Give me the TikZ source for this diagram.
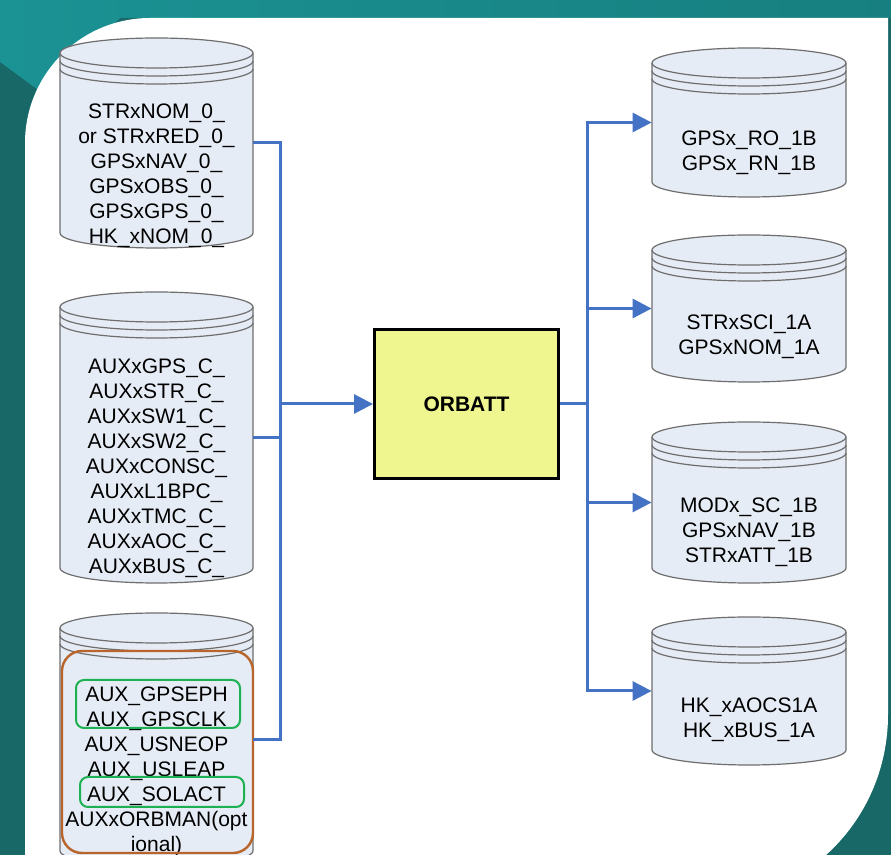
\documentclass[tikz,border=0pt]{standalone}
\usepackage{fontspec}
\setmainfont{Liberation Sans}
\usepackage{xcolor}
\usetikzlibrary{arrows.meta, positioning}
\definecolor{PanelTeal}{HTML}{176866}
\definecolor{TopTealA}{HTML}{1B9294}
\definecolor{TopTealB}{HTML}{177F7F}
\definecolor{DrumFill}{HTML}{E6ECF5}
\definecolor{DrumLine}{HTML}{6E6E6E}
\definecolor{FlowBlue}{HTML}{4472C4}
\definecolor{BoxYellow}{HTML}{F0F68F}
\definecolor{MarkBrown}{HTML}{B8642A}
\definecolor{MarkGreen}{HTML}{1DB152}

% drum: name, left, right, top, bottom, text centre, text
\newcommand{\drum}[7]{%
  \pgfmathsetmacro{\drumrx}{(#3-#2)/2}%
  \pgfmathsetmacro{\drumw}{(#3-#2)*0.5}%
  \pgfmathsetmacro{\drumh}{(#5-#4)*0.5}%
  \filldraw[drumline] (#2,#4+15) -- (#2,#5-15) arc[start angle=180, end angle=0, x radius=\drumrx, y radius=15]
    -- (#3,#4+15) arc[start angle=0, end angle=-180, x radius=\drumrx, y radius=15] -- cycle;
  \foreach \ring in {0,8,16}
    \draw[drumline, fill=none] (#2,#4+15+\ring) arc[start angle=180, end angle=0, x radius=\drumrx, y radius=15];
  \node[drumbox, minimum width=\drumw pt, minimum height=\drumh pt] (#1) at ({(#2+#3)/2},{(#4+#5)/2}) {};
  \node[drumtext] (#1txt) at ({(#2+#3)/2},#6) {#7};
}

\begin{document}
\begin{tikzpicture}[x=0.5pt, y=-0.5pt,
    drumline/.style={draw=DrumLine, fill=DrumFill, line width=0.6pt},
    drumbox/.style={draw=none, inner sep=0pt},
    drumtext/.style={font=\fontsize{10.5pt}{12.5pt}\selectfont, align=center, inner sep=0pt},
    procbox/.style={draw=black, line width=1.5pt, fill=BoxYellow, minimum width=92pt, minimum height=74.5pt, font=\fontsize{10.5pt}{12.5pt}\selectfont\bfseries},
    flow/.style={draw=FlowBlue, line width=1.5pt},
    flowarrow/.style={flow, -{Triangle[length=9.5pt, width=9.5pt]}},
    hlframe/.style={line width=1pt, rounded corners=4pt}]
  \clip (0,0) rectangle (891,855);

  % frame
  \fill[PanelTeal] (0,0) rectangle (891,855);
  \shade[left color=TopTealA, right color=TopTealB] (0,0) -- (891,0) -- (891,18) -- (120,18) -- (45,95) -- (0,62) -- cycle;
  \fill[white] (25,860) -- (25,143) .. controls (25,74) and (81,18) .. (150,18) -- (888,18) -- (888,715)
    .. controls (888,768) and (866,819) .. (826,855) -- (826,860) -- cycle;

  % inputs
  \drum{nom0}{60}{253}{38}{248}{176}{STRxNOM\_0\_\\or STRxRED\_0\_\\GPSxNAV\_0\_\\GPSxOBS\_0\_\\GPSxGPS\_0\_\\HK\_xNOM\_0\_}
  \drum{auxc}{60}{253}{292}{583}{468}{AUXxGPS\_C\_\\AUXxSTR\_C\_\\AUXxSW1\_C\_\\AUXxSW2\_C\_\\AUXxCONSC\_\\AUXxL1BPC\_\\AUXxTMC\_C\_\\AUXxAOC\_C\_\\AUXxBUS\_C\_}
  \drum{auxgps}{60}{253}{613}{866}{771}{AUX\_GPSEPH\\AUX\_GPSCLK\\AUX\_USNEOP\\AUX\_USLEAP\\AUX\_SOLACT\\AUXxORBMAN(opt\\ional)}
  \draw[hlframe, draw=MarkBrown, line width=1.2pt, rounded corners=10pt] (62,651) rectangle (253,853);
  \draw[hlframe, draw=MarkGreen] (76,680) rectangle (240,728);
  \draw[hlframe, draw=MarkGreen] (80,777) rectangle (244,807);

  % outputs
  \drum{ro1b}{652}{846}{48}{197}{153}{GPSx\_RO\_1B\\GPSx\_RN\_1B}
  \drum{nom1a}{652}{846}{235}{382}{337}{STRxSCI\_1A\\GPSxNOM\_1A}
  \drum{sc1b}{652}{846}{422}{583}{532}{MODx\_SC\_1B\\GPSxNAV\_1B\\STRxATT\_1B}
  \drum{hk1a}{652}{846}{617}{765}{720}{HK\_xAOCS1A\\HK\_xBUS\_1A}

  \node[procbox] (orbatt) at (466.5,404) {ORBATT};

  \coordinate (joinL) at (280,404);
  \coordinate (joinR) at (587,404);
  \draw[flow] (nom0.east) -| (joinL);
  \draw[flow] (auxc.east) -| (joinL);
  \draw[flow] (auxgps.east) -| (joinL);
  \draw[flowarrow] (joinL) -- (orbatt.west);
  \draw[flow] (orbatt.east) -- (joinR);
  \draw[flowarrow] (joinR) |- (ro1b.west);
  \draw[flowarrow] (joinR) |- (nom1a.west);
  \draw[flowarrow] (joinR) |- (sc1b.west);
  \draw[flowarrow] (joinR) |- (hk1a.west);
\end{tikzpicture}
\end{document}
